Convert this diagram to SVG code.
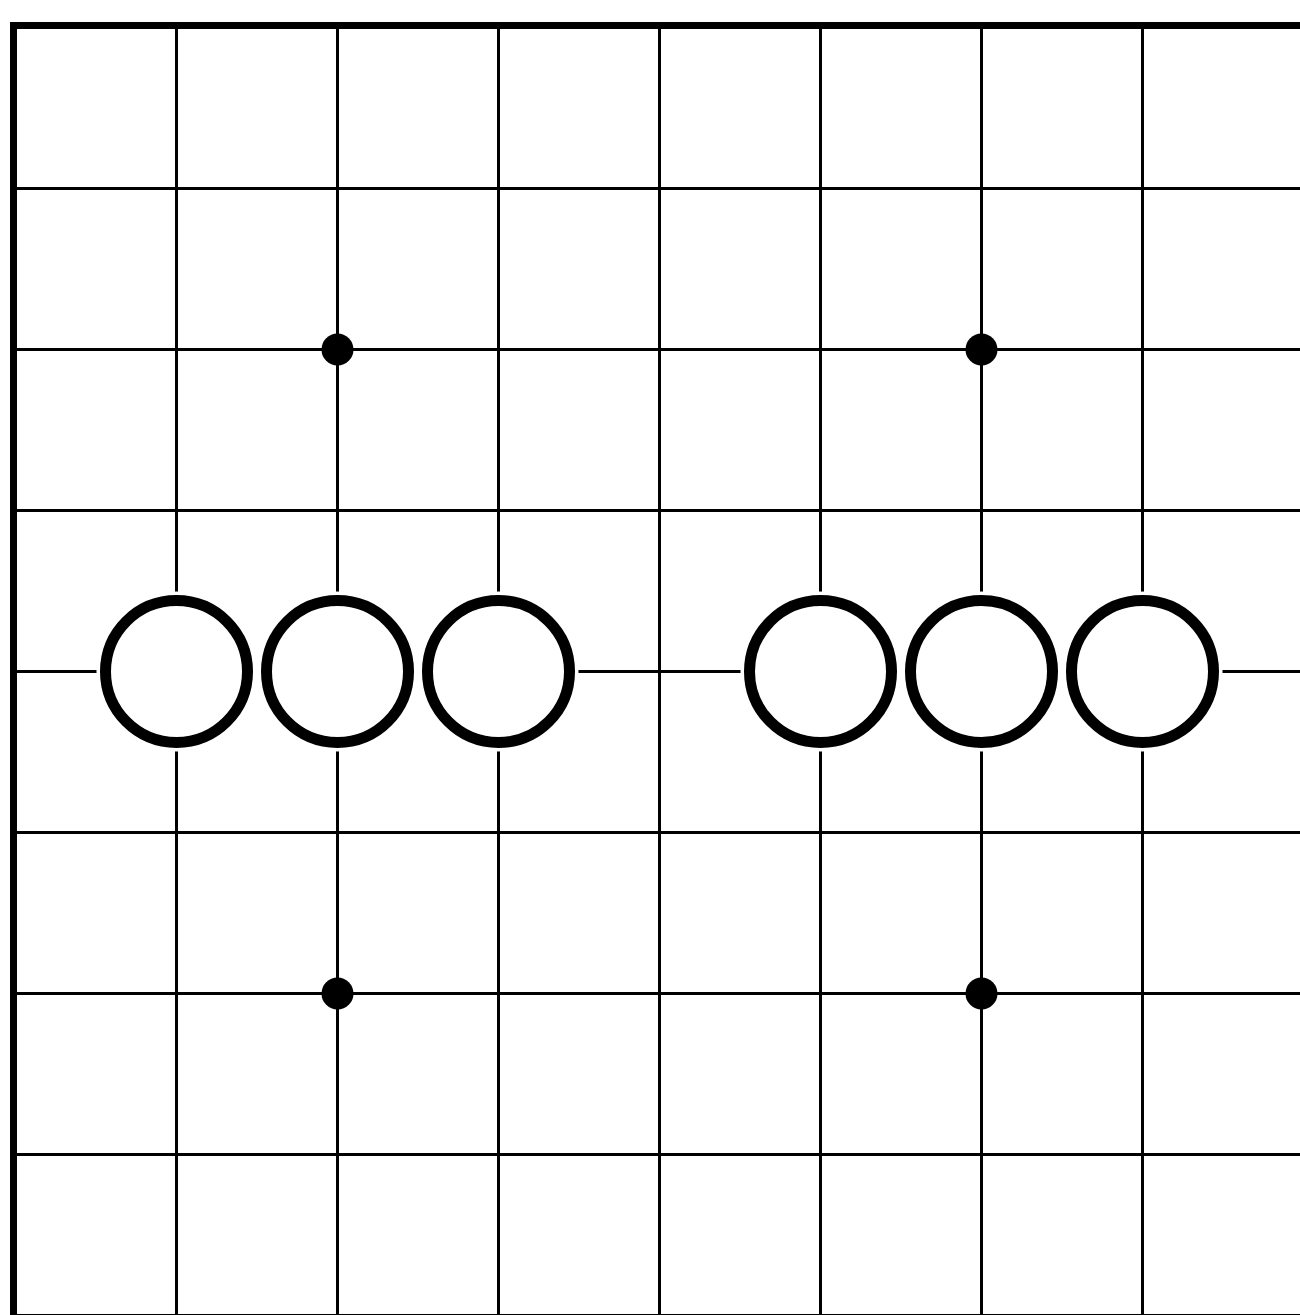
<svg xmlns="http://www.w3.org/2000/svg" width="1300" height="1315" viewBox="0 0 1300 1315">
<style>
.grid line{stroke:#000;stroke-width:3}
.border{stroke:#000;stroke-width:7;fill:none}
.halo{fill:#fff}
.stone{fill:#fff;stroke:#000;stroke-width:11}
.star{fill:#000}
</style>
<rect x="0" y="0" width="1300" height="1315" fill="#fff"/>
<g id="connectors" class="grid">
<line x1="13.5" y1="188.5" x2="1300" y2="188.5"/>
<line x1="13.5" y1="349.5" x2="1300" y2="349.5"/>
<line x1="13.5" y1="510.5" x2="1300" y2="510.5"/>
<line x1="13.5" y1="671.5" x2="1300" y2="671.5"/>
<line x1="13.5" y1="832.5" x2="1300" y2="832.5"/>
<line x1="13.5" y1="993.5" x2="1300" y2="993.5"/>
<line x1="13.5" y1="1154.5" x2="1300" y2="1154.5"/>
<line x1="13.5" y1="1315.5" x2="1300" y2="1315.5"/>
<line x1="176.5" y1="25.5" x2="176.5" y2="1315"/>
<line x1="337.5" y1="25.5" x2="337.5" y2="1315"/>
<line x1="498.5" y1="25.5" x2="498.5" y2="1315"/>
<line x1="659.5" y1="25.5" x2="659.5" y2="1315"/>
<line x1="820.5" y1="25.5" x2="820.5" y2="1315"/>
<line x1="981.5" y1="25.5" x2="981.5" y2="1315"/>
<line x1="1142.5" y1="25.5" x2="1142.5" y2="1315"/>
</g>
<g id="border">
<polyline class="border" points="13.5,1315 13.5,25.5 1300,25.5"/>
</g>
<g id="stars">
<circle id="star1" class="star" cx="337.5" cy="349.5" r="16"/>
<circle id="star2" class="star" cx="981.5" cy="349.5" r="16"/>
<circle id="star3" class="star" cx="337.5" cy="993.5" r="16"/>
<circle id="star4" class="star" cx="981.5" cy="993.5" r="16"/>
</g>
<g id="halos">
<rect class="halo" x="176.5" y="666" width="322" height="11"/>
<rect class="halo" x="820.5" y="666" width="322" height="11"/>
<circle class="halo" cx="176.5" cy="671.5" r="80"/>
<circle class="halo" cx="337.5" cy="671.5" r="80"/>
<circle class="halo" cx="498.5" cy="671.5" r="80"/>
<circle class="halo" cx="820.5" cy="671.5" r="80"/>
<circle class="halo" cx="981.5" cy="671.5" r="80"/>
<circle class="halo" cx="1142.5" cy="671.5" r="80"/>
</g>
<g id="stone1"><circle class="stone" cx="176.5" cy="671.5" r="71"/></g>
<g id="stone2"><circle class="stone" cx="337.5" cy="671.5" r="71"/></g>
<g id="stone3"><circle class="stone" cx="498.5" cy="671.5" r="71"/></g>
<g id="stone4"><circle class="stone" cx="820.5" cy="671.5" r="71"/></g>
<g id="stone5"><circle class="stone" cx="981.5" cy="671.5" r="71"/></g>
<g id="stone6"><circle class="stone" cx="1142.5" cy="671.5" r="71"/></g>
</svg>
